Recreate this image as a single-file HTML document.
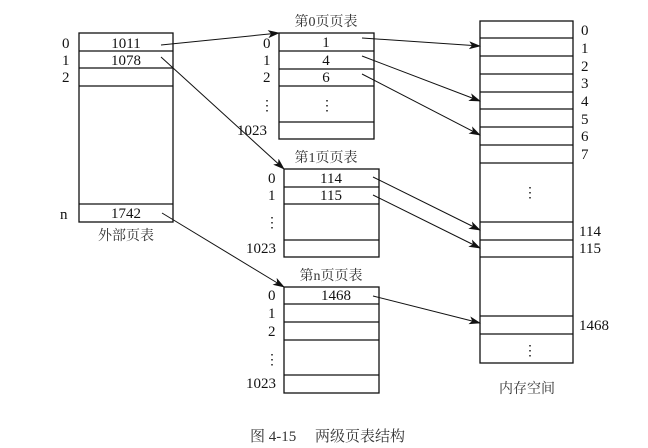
<!DOCTYPE html>
<html><head><meta charset="utf-8"><style>
html,body{margin:0;padding:0;background:#fff;}
svg{display:block;}
text{font-family:"Liberation Serif","Noto Serif CJK SC",serif;fill:#111;}
.c{font-family:"Liberation Serif","Noto Serif CJK SC",serif;fill:#333;}
</style></head><body>
<svg width="648" height="448" viewBox="0 0 648 448" xmlns="http://www.w3.org/2000/svg">
<defs><marker id="a" markerWidth="12" markerHeight="8" refX="11" refY="4" orient="auto" markerUnits="userSpaceOnUse"><path d="M0,0 L12,4 L0,8 L3,4 Z" fill="#111"/></marker></defs>
<g fill="none" stroke="#111" stroke-width="1.3">
<!-- outer table -->
<rect x="79" y="33" width="94" height="189"/>
<line x1="79" y1="51" x2="173" y2="51"/><line x1="79" y1="68" x2="173" y2="68"/><line x1="79" y1="86" x2="173" y2="86"/><line x1="79" y1="204" x2="173" y2="204"/>
<!-- page 0 -->
<rect x="279" y="33" width="95" height="106"/>
<line x1="279" y1="51" x2="374" y2="51"/><line x1="279" y1="69" x2="374" y2="69"/><line x1="279" y1="86" x2="374" y2="86"/><line x1="279" y1="122" x2="374" y2="122"/>
<!-- page 1 -->
<rect x="284" y="169" width="95" height="88"/>
<line x1="284" y1="187" x2="379" y2="187"/><line x1="284" y1="204" x2="379" y2="204"/><line x1="284" y1="240" x2="379" y2="240"/>
<!-- page n -->
<rect x="284" y="287" width="95" height="106"/>
<line x1="284" y1="304" x2="379" y2="304"/><line x1="284" y1="322" x2="379" y2="322"/><line x1="284" y1="340" x2="379" y2="340"/><line x1="284" y1="375" x2="379" y2="375"/>
<!-- memory -->
<rect x="480" y="21" width="93" height="342"/>
<line x1="480" y1="38" x2="573" y2="38"/><line x1="480" y1="56" x2="573" y2="56"/><line x1="480" y1="74" x2="573" y2="74"/><line x1="480" y1="92" x2="573" y2="92"/><line x1="480" y1="109" x2="573" y2="109"/><line x1="480" y1="127" x2="573" y2="127"/><line x1="480" y1="145" x2="573" y2="145"/><line x1="480" y1="163" x2="573" y2="163"/>
<line x1="480" y1="222" x2="573" y2="222"/><line x1="480" y1="240" x2="573" y2="240"/><line x1="480" y1="257" x2="573" y2="257"/>
<line x1="480" y1="316" x2="573" y2="316"/><line x1="480" y1="334" x2="573" y2="334"/>
</g>
<g stroke="#111" stroke-width="1" fill="none" marker-end="url(#a)">
<line x1="161" y1="45" x2="279" y2="33"/>
<line x1="161" y1="57" x2="284" y2="169"/>
<line x1="162" y1="213" x2="284" y2="287"/>
<line x1="362" y1="38" x2="480" y2="46"/>
<line x1="362" y1="56" x2="480" y2="101"/>
<line x1="362" y1="74" x2="480" y2="135"/>
<line x1="373" y1="177" x2="480" y2="230"/>
<line x1="373" y1="195" x2="480" y2="248"/>
<line x1="373" y1="296" x2="480" y2="323"/>
</g>
<g font-size="15">
<!-- outer -->
<text x="62" y="48">0</text><text x="62" y="65">1</text><text x="62" y="82">2</text><text x="60" y="219">n</text>
<text x="126" y="48" text-anchor="middle">1011</text><text x="126" y="65" text-anchor="middle">1078</text><text x="126" y="218" text-anchor="middle">1742</text>
<text class="c" x="126" y="240" text-anchor="middle" font-size="14">外部页表</text>
<!-- page0 -->
<text class="c" x="326" y="26" text-anchor="middle" font-size="14">第0页页表</text>
<text x="263" y="48">0</text><text x="263" y="65">1</text><text x="263" y="82">2</text>
<text x="326" y="47" text-anchor="middle">1</text><text x="326" y="65" text-anchor="middle">4</text><text x="326" y="82" text-anchor="middle">6</text>
<text x="237" y="135">1023</text>
<!-- page1 -->
<text class="c" x="326" y="162" text-anchor="middle" font-size="14">第1页页表</text>
<text x="268" y="183">0</text><text x="268" y="200">1</text>
<text x="331" y="183" text-anchor="middle">114</text><text x="331" y="200" text-anchor="middle">115</text>
<text x="246" y="253">1023</text>
<!-- pagen -->
<text class="c" x="331" y="280" text-anchor="middle" font-size="14">第n页页表</text>
<text x="268" y="300">0</text><text x="268" y="318">1</text><text x="268" y="336">2</text>
<text x="336" y="300" text-anchor="middle">1468</text>
<text x="246" y="388">1023</text>
<!-- memory labels -->
<text x="581" y="35">0</text><text x="581" y="53">1</text><text x="581" y="71">2</text><text x="581" y="88">3</text><text x="581" y="106">4</text><text x="581" y="124">5</text><text x="581" y="141">6</text><text x="581" y="159">7</text>
<text x="579" y="236">114</text><text x="579" y="253">115</text><text x="579" y="330">1468</text>
<text class="c" x="527" y="393" text-anchor="middle" font-size="14">内存空间</text>
</g>
<!-- dots -->
<g font-size="14">
<text x="260" y="110">⋮</text><text x="320" y="110">⋮</text>
<text x="265" y="227">⋮</text><text x="265" y="364">⋮</text>
<text x="523" y="197">⋮</text><text x="523" y="355">⋮</text>
</g>
<text class="c" x="250" y="441" font-size="15">图 4-15　 两级页表结构</text>
</svg>
</body></html>
